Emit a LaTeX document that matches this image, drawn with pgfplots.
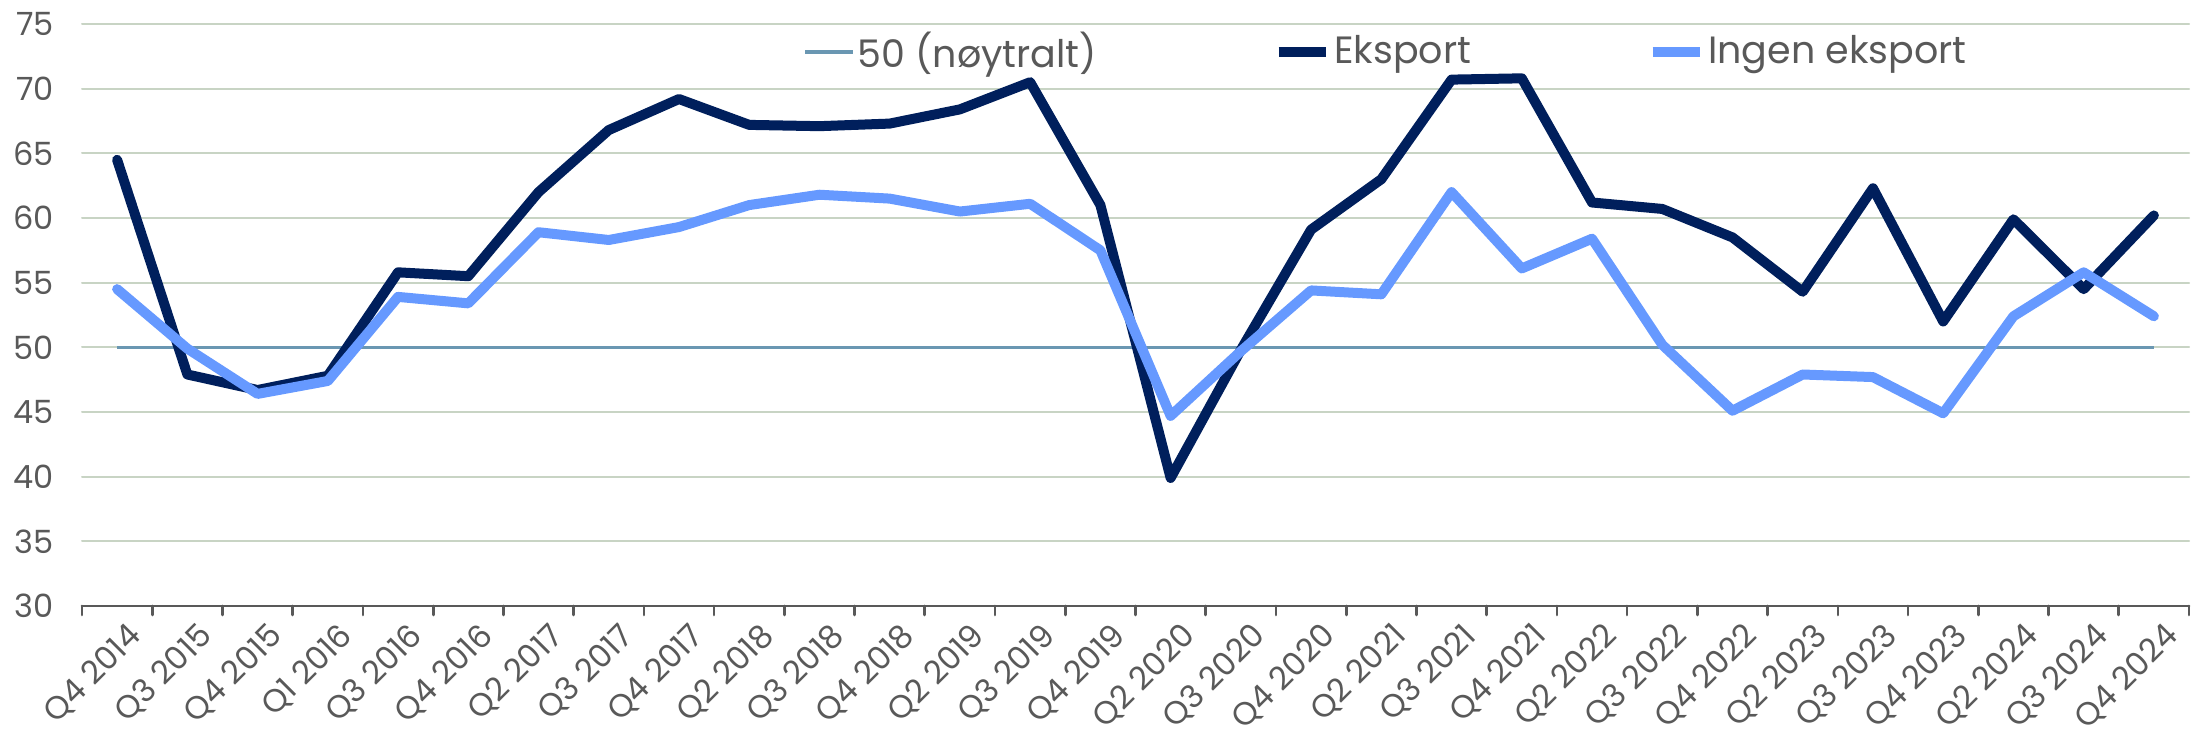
\documentclass[border=0pt]{standalone}
\usepackage{fontspec}
\setmainfont{Poppins}
\usepackage{pgfplots}
\pgfplotsset{compat=1.18}
\definecolor{eks}{HTML}{001F5C}
\definecolor{ingen}{HTML}{6699FF}
\definecolor{noy}{HTML}{6A97B2}
\definecolor{gridc}{HTML}{C8D4C4}
\definecolor{txt}{HTML}{595959}
\pgfplotstableread{
x e i n
0 64.5 54.5 50
1 47.9 49.9 50
2 46.7 46.4 50
3 47.8 47.4 50
4 55.8 53.9 50
5 55.5 53.4 50
6 62.0 58.9 50
7 66.8 58.3 50
8 69.2 59.3 50
9 67.2 61.0 50
10 67.1 61.8 50
11 67.3 61.5 50
12 68.4 60.5 50
13 70.5 61.1 50
14 61.0 57.5 50
15 39.9 44.7 50
16 49.8 49.7 50
17 59.1 54.4 50
18 63.0 54.1 50
19 70.7 62.0 50
20 70.8 56.1 50
21 61.2 58.4 50
22 60.7 50.2 50
23 58.5 45.1 50
24 54.3 47.9 50
25 62.3 47.7 50
26 52.0 44.9 50
27 59.9 52.4 50
28 54.5 55.8 50
29 60.2 52.4 50
}\datatab
\begin{document}
\begin{tikzpicture}
\begin{axis}[
  width=632.1bp, height=174.6bp, scale only axis,
  xmin=-0.5, xmax=29.5, ymin=30, ymax=75,
  ytick={30,35,...,75},
  ymajorgrids, grid style={gridc, line width=0.6bp},
  axis x line*=bottom, axis y line*=left,
  y axis line style={draw=none},
  x axis line style={txt, line width=0.8bp},
  ytick style={draw=none},
  xtick={0,...,29},
  xticklabels={Q4 2014,Q3 2015,Q4 2015,Q1 2016,Q3 2016,Q4 2016,Q2 2017,Q3 2017,Q4 2017,Q2 2018,Q3 2018,Q4 2018,Q2 2019,Q3 2019,Q4 2019,Q2 2020,Q3 2020,Q4 2020,Q2 2021,Q3 2021,Q4 2021,Q2 2022,Q3 2022,Q4 2022,Q2 2023,Q3 2023,Q4 2023,Q2 2024,Q3 2024,Q4 2024},
  major x tick style={draw=none},
  minor xtick={-0.5,0.5,...,29.5},
  minor x tick style={txt, line width=0.8bp},
  tick align=outside,
  minor tick length=2.7bp,
  major tick length=0pt,
  /pgf/number format/assume math mode=true,
  tick label style={font=\fontsize{9.6bp}{11bp}\selectfont, text=txt},
  x tick label style={rotate=45, anchor=north east, inner sep=1bp, yshift=-4bp},
  y tick label style={xshift=-5bp},
  legend columns=3,
  legend style={draw=none, fill=none, at={(0.3422,0.9519)}, anchor=west,
    inner sep=0pt, font=\fontsize{11.4bp}{13bp}\selectfont, text=txt,
    nodes={inner sep=1bp},
    /tikz/every even column/.append style={column sep=52bp}},
  legend image code/.code={\draw[#1] (0cm,0cm) -- (0.5cm,0cm);},
  line join=round, line cap=round,
]
\addplot[noy, line width=1bp, line cap=butt] table[x=x, y=n] {\datatab};
\addlegendentry{50 (nøytralt)}
\addplot[eks, line width=3bp] table[x=x, y=e] {\datatab};
\addlegendentry{Eksport}
\addplot[ingen, line width=3bp] table[x=x, y=i] {\datatab};
\addlegendentry{Ingen eksport}
\end{axis}
\pgfresetboundingbox
\path[use as bounding box] (-24.6bp,-38.7bp) rectangle (635.1bp,181.8bp);
\end{tikzpicture}
\end{document}
